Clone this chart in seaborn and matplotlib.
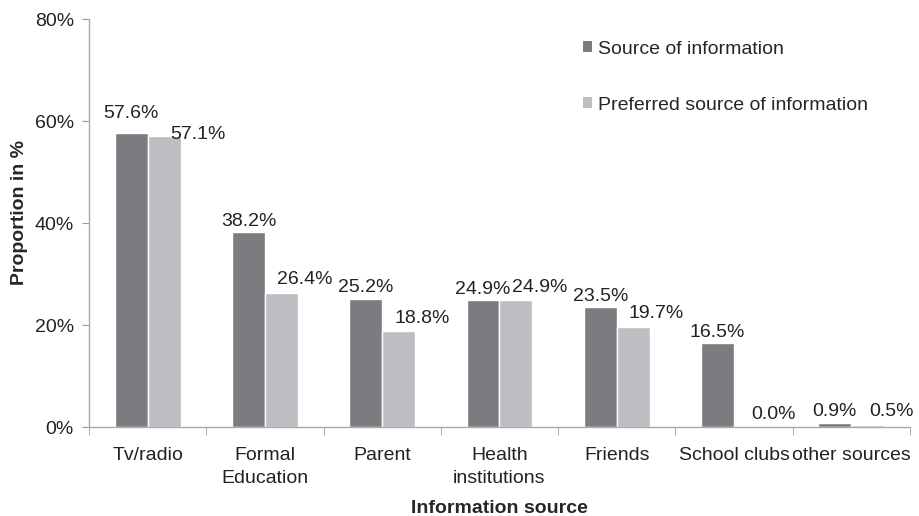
import numpy as np
import matplotlib.pyplot as plt
import pandas as pd
import seaborn as sns

categories = ['Tv/radio', 'Formal\nEducation', 'Parent', 'Health\ninstitutions',
              'Friends', 'School clubs', 'other sources']
source = [57.6, 38.2, 25.2, 24.9, 23.5, 16.5, 0.9]
preferred = [57.1, 26.4, 18.8, 24.9, 19.7, 0.0, 0.5]
series = ['Source of information', 'Preferred source of information']
colors = ['#7b7c80', '#bdbec2']

df = pd.DataFrame({
    'cat': categories * 2,
    'val': source + preferred,
    'series': [series[0]] * len(categories) + [series[1]] * len(categories),
})

sns.set_style('white')
plt.rcParams['font.family'] = ['Liberation Sans', 'DejaVu Sans']

FS = 14
fig = plt.figure(figsize=(9.19, 5.16), dpi=100)
ax = fig.add_axes([0.097, 0.172, 0.893, 0.791])
sns.barplot(data=df, x='cat', y='val', hue='series', palette=colors,
            width=0.56, edgecolor='white', linewidth=1, ax=ax, saturation=1)

# data labels, Excel style (labels nudged apart when two tall bars are nearly equal
# and the light one is the shorter)
dark_bars, light_bars = ax.containers[0], ax.containers[1]
for bd, bl, s, p in zip(dark_bars, light_bars, source, preferred):
    xd = bd.get_x() + bd.get_width() / 2
    xl = bl.get_x() + bl.get_width() / 2
    clash = 0 < s - p < 1 and s > 5
    ax.text(xd, s + (3.8 if clash else 2.1), f'{s:.1f}%', ha='center', va='center',
            fontsize=FS, color='#222222')
    ax.text(xl + (0.29 if clash else 0.2), p + (0.2 if clash else 2.5), f'{p:.1f}%',
            ha='center', va='center', fontsize=FS, color='#222222')

ax.set_ylim(0, 80)
ax.set_xlim(-0.5, len(categories) - 0.5)
ax.set_yticks([0, 20, 40, 60, 80])
ax.set_yticklabels(['0%', '20%', '40%', '60%', '80%'], fontsize=FS, color='#222222')
ax.set_xticks(range(len(categories)))
ax.set_xticklabels(categories, fontsize=FS, color='#222222', linespacing=1.45)
ax.tick_params(axis='x', length=0, pad=14)
ax.tick_params(axis='y', length=5, color='#999999', left=True, direction='out', pad=6)
# category boundary ticks
ax.set_xticks(np.arange(-0.5, len(categories)), minor=True)
ax.tick_params(axis='x', which='minor', length=6, color='#999999', bottom=True, direction='out')

for s in ['top', 'right']:
    ax.spines[s].set_visible(False)
for s in ['left', 'bottom']:
    ax.spines[s].set_color('#aaaaaa')
    ax.spines[s].set_linewidth(1)

ax.set_xlabel('Information source', fontsize=FS, fontweight='bold', labelpad=10)
ax.set_ylabel('Proportion in %', fontsize=FS, fontweight='bold')
ax.yaxis.set_label_coords(-0.074, 0.527)

leg = ax.legend(loc='upper left', bbox_to_anchor=(0.58, 0.99), frameon=False, fontsize=FS,
                handlelength=0.5, handleheight=0.5, handletextpad=0.3, labelspacing=2.0)
for h in leg.legend_handles:
    h.set_edgecolor('none')

fig.savefig('out.png', dpi=100)
